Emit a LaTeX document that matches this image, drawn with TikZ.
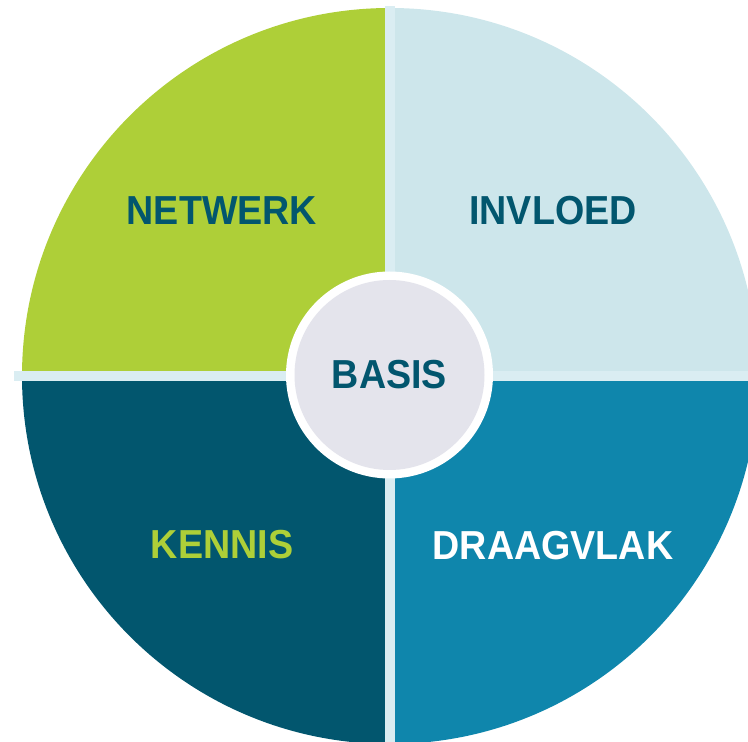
\documentclass[tikz,border=0pt]{standalone}
\usepackage{fontspec}
\setmainfont{Liberation Sans}
\newfontfamily\lblfont[FakeStretch=0.93]{Liberation Sans}
\begin{document}
\begin{tikzpicture}[x=1pt,y=1pt,
  lbl/.style={font=\lblfont\fontsize{40.5}{42}\selectfont\bfseries, inner sep=0pt},
  strip/.style={fill=stripc, draw=none}]
\definecolor{qgreen}{HTML}{AECF38}
\definecolor{qlight}{HTML}{CDE6EB}
\definecolor{qdark}{HTML}{02566E}
\definecolor{qblue}{HTML}{0F86AC}
\definecolor{qgray}{HTML}{E4E4EC}
\definecolor{stripc}{HTML}{DAEDF2}
\useasboundingbox (0,0) rectangle (748,742);
\coordinate (c) at (390,366);
% quadrants
\fill[qgreen] (c) -- ++(-368,0) arc[start angle=180, end angle=90, radius=368] -- cycle;
\fill[qlight] (c) -- ++(0,368) arc[start angle=90, end angle=0, radius=368] -- cycle;
\fill[qdark] (c) -- ++(-368,0) arc[start angle=180, end angle=270, radius=368] -- cycle;
\fill[qblue] (c) -- ++(368,0) arc[start angle=0, end angle=-90, radius=368] -- cycle;
% strips
\fill[strip] (385,0) rectangle (395,736);
\fill[strip] (14,361) rectangle (748,371);
% centre
\node[circle, fill=white, minimum size=207pt, inner sep=0pt] (ring) at (389.5,367) {};
\node[circle, fill=qgray, minimum size=190pt, inner sep=0pt, text=qdark, lbl] (basis) at (ring) {BASIS};
% labels
\node[lbl, text=qdark] (netwerk) at (222,531) {NETWERK};
\node[lbl, text=qdark] (invloed) at (553,531) {INVLOED};
\node[lbl, text=qgreen] (kennis) at (222,197) {KENNIS};
\node[lbl, text=white] (draagvlak) at (553,196) {DRAAGVLAK};
\end{tikzpicture}
\end{document}
